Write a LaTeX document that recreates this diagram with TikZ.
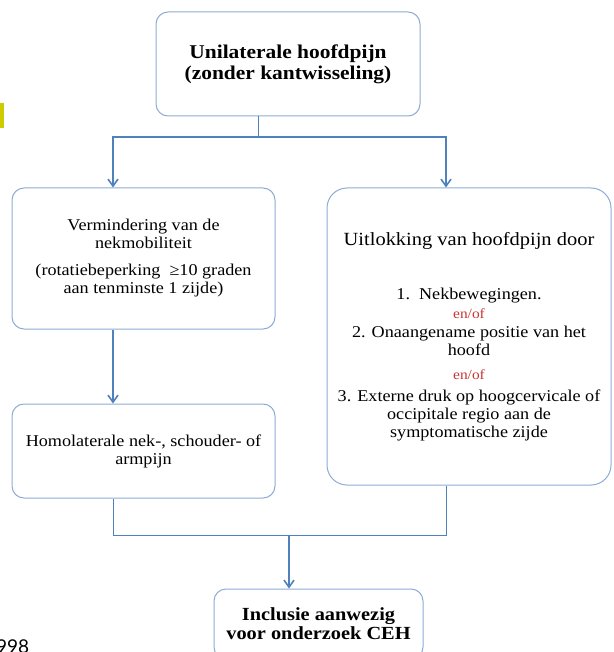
\documentclass[tikz,border=0pt]{standalone}
\usepackage{fontspec}
\setmainfont[FakeStretch=1.1]{Liberation Serif}
\newfontfamily\pagefont{Lato}
\usetikzlibrary{arrows.meta}
\definecolor{boxblue}{RGB}{140,172,212}
\definecolor{lineblue}{RGB}{79,129,189}
\definecolor{enofred}{RGB}{204,51,51}
\definecolor{tabyellow}{RGB}{204,204,0}
\tikzset{
  box/.style={draw=boxblue, line width=1pt, rounded corners=12pt, align=center,
    inner sep=0pt, font=\fontsize{16.5}{18}\selectfont},
  link/.style={draw=lineblue, line width=1pt},
  flow/.style={link, line width=1.6pt, -{Straight Barb[length=7pt,width=10pt]}},
}
\newcommand{\enof}{{\color{enofred}\fontsize{14}{15}\selectfont en/of}}

\begin{document}
\begin{tikzpicture}[x=1pt,y=-1pt]
  \clip (0,0) rectangle (613,652);
  \fill[tabyellow] (0,103) rectangle (4,128);
  \node[anchor=south west, inner sep=0pt, font=\pagefont\fontsize{19}{19}\selectfont] at (-4,654) (page) {998};

  \node[box, minimum width=264, minimum height=104, font=\bfseries\fontsize{19.5}{21}\selectfont]
    at (288,64) (uni) {Unilaterale hoofdpijn\\(zonder kantwisseling)};
  \node[box, minimum width=263, minimum height=141] at (143.5,258.5) (nek)
    {Vermindering van de\\nekmobiliteit\\[9pt](rotatiebeperking\ \ ≥10 graden\\aan tenminste 1 zijde)};
  \node[box, rounded corners=20pt, minimum width=284, minimum height=297] at (469,336.5) (uitl)
    {{\fontsize{18.6}{20}\selectfont Uitlokking van hoofdpijn door}\\[36pt]
     1.\ \ Nekbewegingen.\\[1pt]\enof\\[1pt]
     2. Onaangename positie van het\\hoofd\\[6pt]\enof\\[4pt]
     3. Externe druk op hoogcervicale of\\occipitale regio aan de\\symptomatische zijde};
  \node[box, minimum width=263, minimum height=94] at (143.5,451) (homo)
    {Homolaterale nek-, schouder- of\\armpijn};
  \node[box, minimum width=209, minimum height=70, font=\bfseries\fontsize{18.5}{19}\selectfont]
    at (318.5,624) (incl) {Inclusie aanwezig\\voor onderzoek CEH};

  % splitsen en samenvoegen
  \coordinate (split) at (258,137);
  \coordinate (lcol) at (113,0);
  \coordinate (rcol) at (446,0);
  \coordinate (join) at (289,535);
  \draw[link] (split |- uni.south) -- (split);
  \draw[flow] (split) -| (lcol |- nek.north);
  \draw[flow] (split) -| (rcol |- uitl.north);
  \draw[flow] (lcol |- nek.south) -- (lcol |- homo.north);
  \draw[link] (lcol |- homo.south) |- (join);
  \draw[link] (rcol |- uitl.south) |- (join);
  \draw[flow] (join) -- (join |- incl.north);
\end{tikzpicture}
\end{document}
